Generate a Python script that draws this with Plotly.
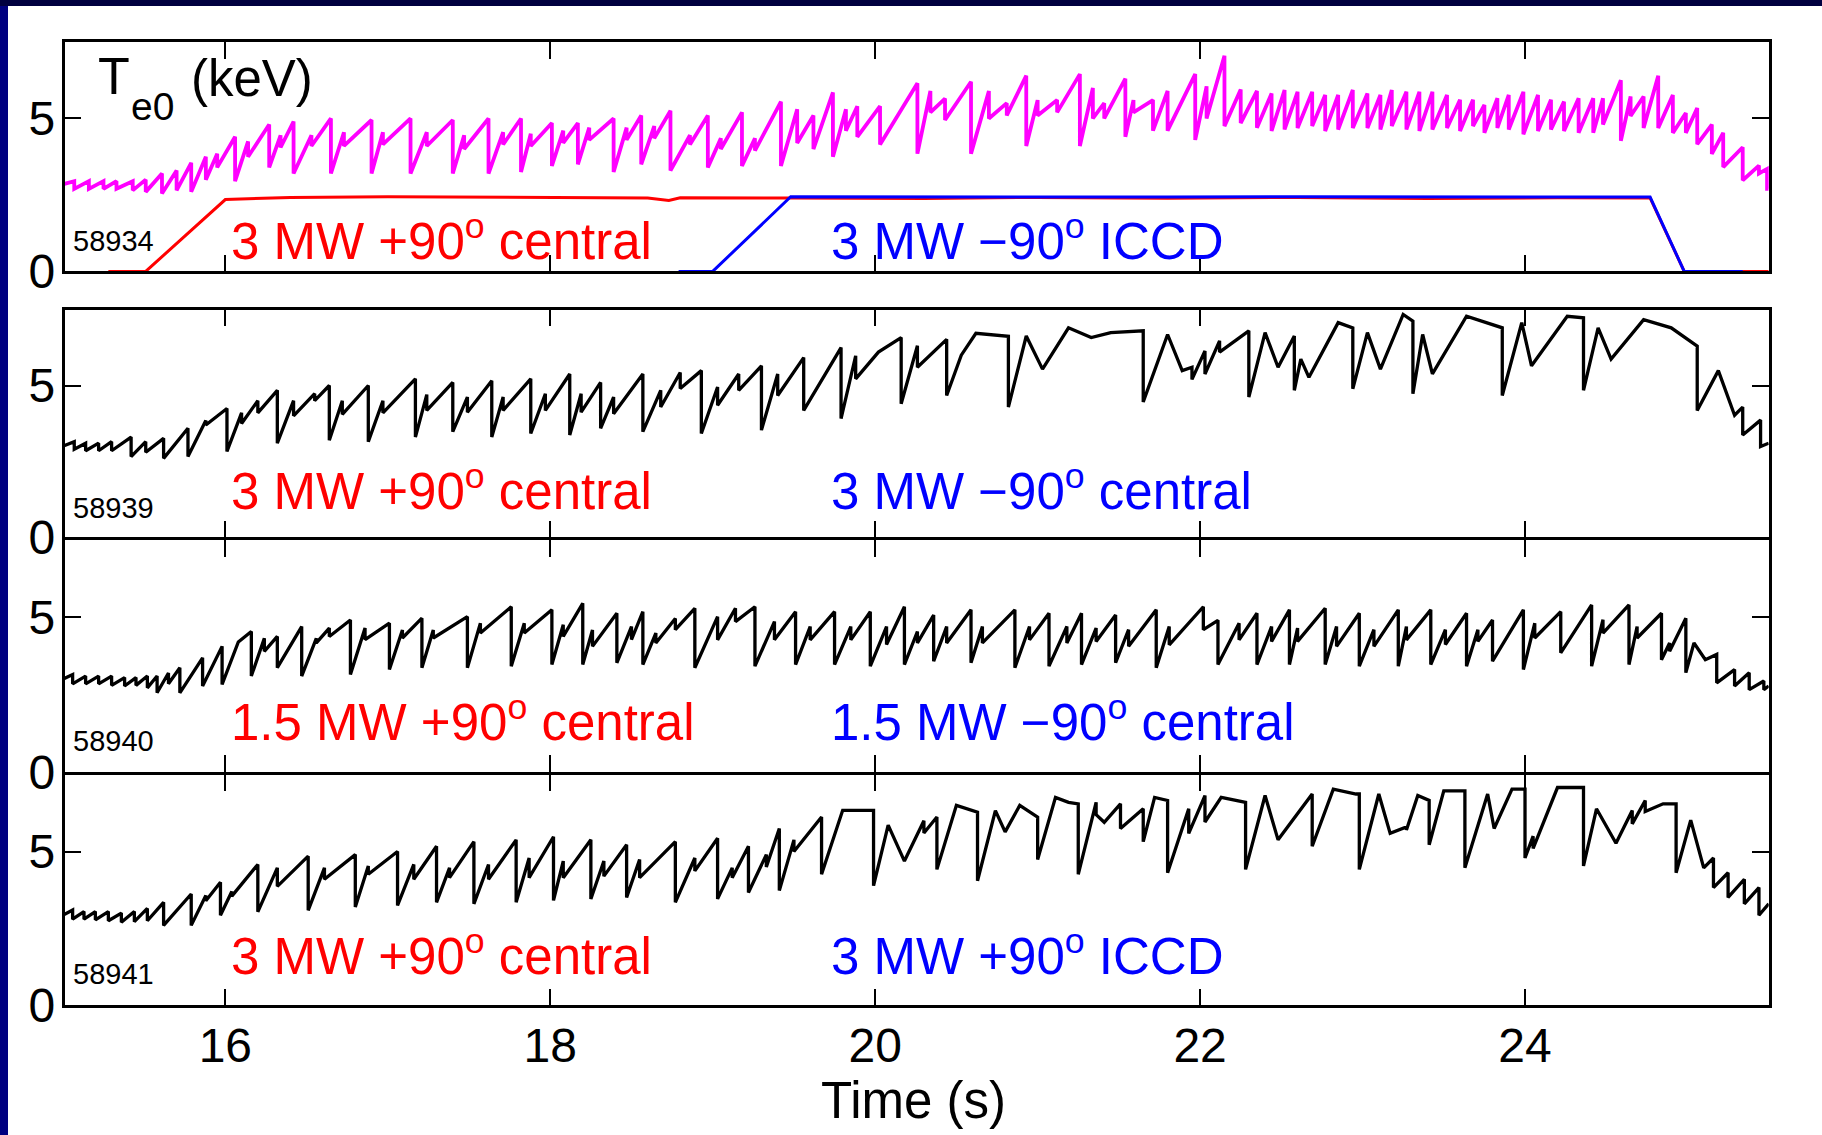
import plotly.graph_objects as go

W, H = 1822, 1135

# ---------------------------------------------------------------- axes data
T_RANGE = [15.01, 25.5]
TE_RANGE = [0.0, 7.5]
x_ticks = [16, 18, 20, 22, 24]
y_ticks = [0, 5]

shots = ["58934", "58939", "58940", "58941"]
trace_colors = ["#ff00ff", "#000000", "#000000", "#000000"]

# central Te sawtooth records: (crash time [s], Te before crash, Te after crash) [keV]
# entries with equal before/after values are plain waypoints of the trace
te_58934_start = (15.00, 2.85)
crashes_58934 = [
    (15.07, 2.95, 2.70), (15.16, 2.95, 2.70), (15.25, 2.95, 2.70), (15.33, 2.95, 2.70),
    (15.43, 2.95, 2.65), (15.51, 3.00, 2.60), (15.61, 3.20, 2.55), (15.70, 3.30, 2.65),
    (15.79, 3.55, 2.60), (15.88, 3.75, 3.00), (15.95, 3.85, 3.40), (16.06, 4.40, 2.95),
    (16.14, 4.25, 3.75), (16.27, 4.80, 3.40), (16.34, 4.45, 4.05), (16.42, 4.90, 3.20),
    (16.53, 4.45, 4.10), (16.65, 5.00, 3.20), (16.73, 4.55, 4.10), (16.90, 4.95, 3.20),
    (16.97, 4.55, 4.15), (17.14, 5.00, 3.20), (17.24, 4.55, 4.10), (17.40, 4.95, 3.20),
    (17.47, 4.45, 4.00), (17.62, 5.00, 3.20), (17.71, 4.55, 4.15), (17.82, 5.00, 3.25),
    (17.88, 4.50, 4.10), (18.01, 4.85, 3.45), (18.08, 4.60, 4.20), (18.17, 4.85, 3.50),
    (18.24, 4.70, 4.30), (18.39, 5.00, 3.25), (18.47, 4.70, 4.30), (18.56, 5.10, 3.50),
    (18.64, 4.75, 4.35), (18.74, 5.25, 3.30), (18.86, 4.45, 4.15), (18.97, 5.10, 3.40),
    (19.05, 4.35, 4.00), (19.18, 5.20, 3.45), (19.26, 4.35, 3.95), (19.42, 5.55, 3.45),
    (19.52, 5.30, 4.20), (19.62, 5.10, 4.00), (19.74, 5.85, 3.75), (19.82, 5.30, 4.60),
    (19.89, 5.40, 4.40), (20.03, 5.40, 4.15), (20.26, 6.15, 3.85), (20.34, 5.90, 5.20),
    (20.43, 5.65, 4.95), (20.59, 6.20, 3.85), (20.70, 5.90, 5.00), (20.81, 5.50, 5.10),
    (20.93, 6.40, 4.10), (21.00, 5.60, 5.10), (21.12, 5.60, 5.20), (21.26, 6.45, 4.10),
    (21.34, 6.00, 5.00), (21.41, 5.50, 5.00), (21.54, 6.30, 4.40), (21.59, 5.60, 5.20),
    (21.71, 5.60, 4.60), (21.80, 5.90, 4.60), (21.97, 6.45, 4.30), (22.04, 6.05, 5.00),
    (22.15, 7.05, 4.75), (22.25, 5.95, 4.85), (22.35, 5.90, 4.70), (22.44, 5.82, 4.59),
    (22.52, 5.93, 4.64), (22.60, 5.87, 4.69), (22.69, 5.87, 4.75), (22.77, 5.77, 4.59),
    (22.85, 5.77, 4.64), (22.94, 5.93, 4.69), (23.03, 5.82, 4.69), (23.11, 5.77, 4.64),
    (23.18, 5.93, 4.75), (23.27, 5.87, 4.64), (23.35, 5.87, 4.59), (23.43, 5.87, 4.64),
    (23.52, 5.77, 4.69), (23.60, 5.61, 4.59), (23.68, 5.61, 4.75), (23.75, 5.44, 4.53),
    (23.83, 5.66, 4.69), (23.90, 5.77, 4.64), (23.99, 5.87, 4.48), (24.08, 5.77, 4.59),
    (24.16, 5.61, 4.64), (24.24, 5.55, 4.59), (24.33, 5.66, 4.53), (24.42, 5.66, 4.53),
    (24.48, 5.66, 4.80), (24.59, 6.25, 4.27), (24.65, 5.72, 5.08), (24.73, 5.72, 4.69),
    (24.82, 6.40, 4.69), (24.91, 5.77, 4.53), (24.99, 5.18, 4.53), (25.06, 5.34, 4.16),
    (25.15, 4.80, 3.84), (25.22, 4.53, 3.41), (25.34, 4.06, 2.98), (25.44, 3.46, 3.20),
    (25.49, 3.35, 2.70),
]
te_58934_end = (25.50, 2.70)

te_58939_start = (15.00, 3.00)
crashes_58939 = [
    (15.07, 3.15, 2.90), (15.14, 3.10, 2.85), (15.22, 3.10, 2.85), (15.30, 3.15, 2.85),
    (15.42, 3.30, 2.66), (15.51, 3.15, 2.80), (15.62, 3.26, 2.60), (15.77, 3.59, 2.66),
    (15.88, 3.85, 3.70), (16.01, 4.24, 2.83), (16.10, 4.10, 3.75), (16.20, 4.50, 4.10),
    (16.32, 4.84, 3.10), (16.42, 4.50, 4.00), (16.55, 4.73, 4.50), (16.64, 5.00, 3.20),
    (16.72, 4.50, 4.05), (16.88, 5.00, 3.15), (16.97, 4.50, 4.10), (17.17, 5.22, 3.30),
    (17.24, 4.70, 4.18), (17.40, 5.10, 3.48), (17.49, 4.62, 4.12), (17.64, 5.16, 3.30),
    (17.71, 4.62, 4.18), (17.88, 5.22, 3.42), (17.97, 4.73, 4.18), (18.12, 5.38, 3.37),
    (18.19, 4.73, 4.12), (18.31, 5.10, 3.59), (18.39, 4.62, 4.07), (18.57, 5.38, 3.48),
    (18.68, 4.84, 4.29), (18.80, 5.43, 4.90), (18.93, 5.49, 3.42), (19.03, 4.95, 4.35),
    (19.16, 5.38, 4.84), (19.30, 5.65, 3.53), (19.40, 5.38, 4.67), (19.56, 5.92, 4.18),
    (19.79, 6.25, 3.91), (19.88, 5.98, 5.22), (20.02, 6.10, 6.10), (20.16, 6.58, 4.40),
    (20.26, 6.31, 5.60), (20.44, 6.52, 4.67), (20.53, 6.00, 6.00), (20.62, 6.72, 6.72),
    (20.82, 6.62, 4.29), (20.93, 6.63, 6.63), (21.03, 5.54, 5.54), (21.19, 6.90, 6.90),
    (21.33, 6.58, 6.58), (21.45, 6.74, 6.74), (21.65, 6.80, 4.46), (21.80, 6.68, 6.68),
    (21.89, 5.49, 5.49), (21.95, 5.60, 5.20), (22.03, 6.14, 5.38), (22.12, 6.47, 6.10),
    (22.30, 6.80, 4.62), (22.40, 6.74, 6.74), (22.48, 5.60, 5.60), (22.58, 6.63, 4.84),
    (22.62, 5.87, 5.87), (22.67, 5.27, 5.27), (22.85, 7.07, 7.07), (22.94, 6.90, 4.89),
    (23.03, 6.74, 6.74), (23.11, 5.54, 5.54), (23.25, 7.34, 7.34), (23.31, 7.12, 4.73),
    (23.37, 6.68, 6.68), (23.43, 5.38, 5.38), (23.64, 7.28, 7.28), (23.86, 6.90, 4.67),
    (23.98, 7.07, 7.07), (24.04, 5.65, 5.65), (24.26, 7.28, 7.28), (24.36, 7.23, 4.84),
    (24.45, 6.90, 6.90), (24.53, 5.87, 5.87), (24.73, 7.17, 7.17), (24.90, 6.90, 6.90),
    (25.04, 6.35, 6.35), (25.06, 6.30, 4.18), (25.19, 5.49, 5.49), (25.29, 4.02, 4.02),
    (25.34, 4.29, 3.37), (25.45, 3.86, 2.99),
]
te_58939_end = (25.50, 3.10)

te_58940_start = (15.00, 3.00)
crashes_58940 = [
    (15.06, 3.15, 2.85), (15.14, 3.10, 2.85), (15.22, 3.10, 2.85), (15.30, 3.10, 2.80),
    (15.38, 3.05, 2.78), (15.45, 3.05, 2.80), (15.52, 3.10, 2.72), (15.58, 3.10, 2.56),
    (15.65, 3.20, 2.85), (15.72, 3.37, 2.56), (15.86, 3.69, 2.78), (15.98, 4.06, 2.83),
    (16.08, 4.20, 4.20), (16.16, 4.54, 3.10), (16.24, 4.32, 3.90), (16.32, 4.38, 3.37),
    (16.47, 4.70, 3.10), (16.56, 4.32, 4.17), (16.64, 4.65, 4.38), (16.77, 4.91, 3.15),
    (16.86, 4.65, 4.28), (17.01, 4.81, 3.31), (17.09, 4.59, 4.33), (17.21, 4.97, 3.37),
    (17.28, 4.59, 4.33), (17.49, 5.02, 3.37), (17.57, 4.81, 4.49), (17.76, 5.34, 3.42),
    (17.84, 4.81, 4.49), (18.01, 5.24, 3.47), (18.08, 4.76, 4.38), (18.20, 5.45, 3.47),
    (18.26, 4.59, 4.06), (18.41, 5.13, 3.53), (18.50, 4.70, 4.28), (18.57, 5.18, 3.47),
    (18.65, 4.49, 4.17), (18.77, 4.96, 4.60), (18.89, 5.29, 3.37), (19.03, 5.02, 4.27),
    (19.14, 5.29, 4.86), (19.26, 5.34, 3.42), (19.38, 4.86, 4.27), (19.51, 5.18, 3.47),
    (19.60, 4.70, 4.27), (19.75, 5.18, 3.47), (19.85, 4.70, 4.27), (19.97, 5.18, 3.42),
    (20.07, 4.70, 4.12), (20.18, 5.34, 3.47), (20.26, 4.54, 4.17), (20.36, 5.07, 3.58),
    (20.44, 4.70, 4.17), (20.59, 5.24, 3.53), (20.66, 4.70, 4.17), (20.86, 5.24, 3.37),
    (20.95, 4.70, 4.27), (21.07, 5.13, 3.42), (21.18, 4.70, 4.17), (21.27, 5.13, 3.47),
    (21.36, 4.65, 4.22), (21.48, 5.07, 3.53), (21.56, 4.60, 4.06), (21.73, 5.24, 3.37),
    (21.81, 4.70, 4.11), (22.02, 5.34, 4.60), (22.11, 4.90, 3.47), (22.24, 4.81, 4.27),
    (22.35, 5.13, 3.47), (22.44, 4.70, 4.22), (22.55, 5.24, 3.47), (22.60, 4.65, 4.22),
    (22.77, 5.29, 3.47), (22.84, 4.70, 4.06), (22.98, 5.13, 3.42), (23.07, 4.60, 4.06),
    (23.22, 5.24, 3.42), (23.27, 4.70, 4.27), (23.42, 5.24, 3.47), (23.51, 4.60, 4.12),
    (23.64, 5.13, 3.42), (23.71, 4.60, 4.22), (23.80, 4.91, 3.58), (23.99, 5.24, 3.31),
    (24.06, 4.81, 4.33), (24.22, 5.18, 3.85), (24.41, 5.40, 3.42), (24.48, 4.92, 4.49),
    (24.64, 5.40, 3.47), (24.69, 4.70, 4.33), (24.84, 5.13, 3.63), (24.89, 4.17, 3.90),
    (24.99, 4.97, 3.21), (25.04, 4.17, 4.17), (25.11, 3.63, 3.63), (25.18, 3.80, 2.88),
    (25.29, 3.31, 2.78), (25.38, 3.21, 2.66), (25.47, 2.94, 2.66),
]
te_58940_end = (25.50, 2.78)

te_58941_start = (15.00, 2.93)
crashes_58941 = [
    (15.06, 3.10, 2.80), (15.13, 3.05, 2.80), (15.20, 3.05, 2.78), (15.28, 3.05, 2.75),
    (15.36, 3.00, 2.70), (15.44, 3.05, 2.72), (15.52, 3.15, 2.75), (15.62, 3.35, 2.60),
    (15.79, 3.62, 2.60), (15.88, 3.57, 3.40), (15.97, 4.00, 2.93), (16.04, 3.70, 3.55),
    (16.20, 4.58, 3.04), (16.32, 4.47, 3.87), (16.51, 4.85, 3.09), (16.61, 4.47, 4.10),
    (16.80, 4.90, 3.20), (16.88, 4.53, 4.26), (17.06, 5.00, 3.25), (17.16, 4.58, 4.10),
    (17.30, 5.17, 3.35), (17.38, 4.47, 4.15), (17.53, 5.32, 3.30), (17.62, 4.58, 4.10),
    (17.79, 5.38, 3.35), (17.87, 4.79, 4.15), (18.02, 5.48, 3.41), (18.08, 4.69, 4.15),
    (18.25, 5.38, 3.46), (18.33, 4.69, 4.20), (18.47, 5.22, 3.51), (18.55, 4.74, 4.15),
    (18.77, 5.32, 3.35), (18.89, 4.79, 4.37), (19.03, 5.43, 3.46), (19.12, 4.47, 4.15),
    (19.22, 5.17, 3.67), (19.33, 4.90, 4.50), (19.41, 5.75, 3.73), (19.50, 5.38, 5.00),
    (19.67, 6.12, 4.26), (19.80, 6.34, 6.34), (19.99, 6.34, 3.89), (20.08, 5.86, 5.86),
    (20.18, 4.69, 4.69), (20.30, 6.00, 5.60), (20.38, 6.12, 4.42), (20.50, 6.50, 6.50),
    (20.63, 6.28, 4.05), (20.74, 6.33, 6.33), (20.80, 5.64, 5.64), (20.89, 6.50, 6.50),
    (21.00, 6.12, 4.74), (21.11, 6.76, 6.76), (21.19, 6.60, 6.60), (21.25, 6.55, 4.26),
    (21.36, 6.60, 6.20), (21.41, 5.95, 5.95), (21.51, 6.55, 5.75), (21.65, 6.39, 5.32),
    (21.72, 6.76, 6.76), (21.80, 6.66, 4.31), (21.93, 6.39, 5.59), (22.03, 6.82, 5.96),
    (22.13, 6.76, 6.76), (22.28, 6.60, 4.42), (22.40, 6.82, 6.82), (22.48, 5.38, 5.38),
    (22.69, 6.87, 5.17), (22.82, 7.03, 7.03), (22.96, 6.87, 6.87), (22.98, 6.87, 4.42),
    (23.10, 6.87, 6.87), (23.17, 5.59, 5.59), (23.27, 5.80, 5.70), (23.34, 6.82, 6.82),
    (23.41, 6.66, 5.22), (23.50, 6.97, 6.97), (23.63, 6.97, 4.47), (23.77, 6.87, 6.87),
    (23.81, 5.75, 5.75), (23.92, 7.03, 7.03), (24.00, 7.03, 4.79), (24.05, 5.50, 5.10),
    (24.20, 7.08, 7.08), (24.36, 7.08, 4.53), (24.44, 6.39, 6.39), (24.56, 5.27, 5.27),
    (24.66, 6.33, 5.90), (24.74, 6.66, 6.30), (24.85, 6.55, 6.55), (24.93, 6.55, 4.31),
    (25.02, 6.02, 6.02), (25.10, 4.47, 4.47), (25.16, 4.79, 3.83), (25.25, 4.31, 3.51),
    (25.35, 4.10, 3.30), (25.44, 3.83, 2.93),
]
te_58941_end = (25.50, 3.30)

# ICRF power waveforms of shot 58934, drawn on the Te scale
rf_co_t = [15.28, 15.51, 16.00, 16.40, 17.00, 17.80, 18.60, 18.73, 18.80, 19.50,
           20.30, 21.00, 21.80, 22.60, 23.40, 24.20, 24.77, 24.98, 25.50]
rf_co_v = [0.00, 0.00, 2.35, 2.42, 2.44, 2.41, 2.40, 2.32, 2.41, 2.40,
           2.38, 2.42, 2.39, 2.42, 2.38, 2.41, 2.40, 0.00, 0.00]
rf_ctr_t = [18.79, 19.00, 19.48, 20.20, 21.00, 21.80, 22.60, 23.40, 24.20, 24.77, 24.98, 25.34]
rf_ctr_v = [0.00, 0.00, 2.44, 2.43, 2.44, 2.43, 2.44, 2.43, 2.44, 2.43, 0.00, 0.00]

# heating labels: co-current (red) and second antenna (blue)
labels_red = ["3 MW +90<sup>o</sup> central", "3 MW +90<sup>o</sup> central",
              "1.5 MW +90<sup>o</sup> central", "3 MW +90<sup>o</sup> central"]
labels_blue = ["3 MW \u221290<sup>o</sup> ICCD", "3 MW \u221290<sup>o</sup> central",
               "1.5 MW \u221290<sup>o</sup> central", "3 MW +90<sup>o</sup> ICCD"]

starts = [te_58934_start, te_58939_start, te_58940_start, te_58941_start]
crash_sets = [crashes_58934, crashes_58939, crashes_58940, crashes_58941]
ends = [te_58934_end, te_58939_end, te_58940_end, te_58941_end]

# ---------------------------------------------------------------- layout geometry (pixels)
LW = 2.6                      # frame line width
X_LEFT, X_RIGHT = 64.5, 1768.7
# frame line centres (top, bottom) of each panel
panel_px = [(40.7, 272.7), (308.3, 538.6), (538.6, 773.3), (773.3, 1006.7)]
FONT = "Liberation Sans, Arial, Helvetica, sans-serif"


def fx(px):
    return px / W


def fy(py):
    return 1 - py / H


def sawtooth_path(start, crashes, end):
    ts, vs = [start[0]], [start[1]]
    for t, hi, lo in crashes:
        ts += [t, t]
        vs += [hi, lo]
    ts.append(end[0])
    vs.append(end[1])
    return ts, vs


fig = go.Figure()

for i in range(4):
    xa = "x" if i == 0 else f"x{i + 1}"
    ya = "y" if i == 0 else f"y{i + 1}"
    if i == 0:
        fig.add_trace(go.Scatter(x=rf_co_t, y=rf_co_v, mode="lines", xaxis=xa, yaxis=ya,
                                 line=dict(color="#ff0000", width=3.0), hoverinfo="skip"))
        fig.add_trace(go.Scatter(x=rf_ctr_t, y=rf_ctr_v, mode="lines", xaxis=xa, yaxis=ya,
                                 line=dict(color="#0000ff", width=3.0), hoverinfo="skip"))
    ts, vs = sawtooth_path(starts[i], crash_sets[i], ends[i])
    fig.add_trace(go.Scatter(x=ts, y=vs, mode="lines", xaxis=xa, yaxis=ya,
                             line=dict(color=trace_colors[i], width=3.8 if i == 0 else 3.3),
                             hoverinfo="skip"))

layout = dict(
    width=W, height=H, autosize=False,
    margin=dict(l=0, r=0, t=0, b=0, pad=0, autoexpand=False),
    paper_bgcolor="white", plot_bgcolor="white",
    showlegend=False,
    font=dict(family=FONT, color="black"),
)

for i, (top, bot) in enumerate(panel_px):
    key = "" if i == 0 else str(i + 1)
    layout["xaxis" + key] = dict(
        domain=[fx(X_LEFT), fx(X_RIGHT)], range=T_RANGE, anchor="y" + key,
        tickvals=x_ticks, ticktext=[str(v) for v in x_ticks],
        ticks="inside", ticklen=17, tickwidth=2.2, tickcolor="black",
        showline=True, linecolor="black", linewidth=LW, mirror="ticks",
        showgrid=False, zeroline=False, showticklabels=(i == 3), automargin=False,
        tickfont=dict(family=FONT, size=48, color="black"),
        ticklabelstandoff=-4,
    )
    layout["yaxis" + key] = dict(
        domain=[fy(bot - LW / 2), fy(top + LW / 2)], range=TE_RANGE, anchor="x" + key,
        tickvals=y_ticks, ticktext=[str(v) for v in y_ticks],
        ticks="inside", ticklen=17, tickwidth=2.2, tickcolor="black",
        showline=True, linecolor="black", linewidth=LW, mirror="ticks",
        showgrid=False, zeroline=False, automargin=False,
        tickfont=dict(family=FONT, size=48, color="black"),
        ticklabelstandoff=-3,
    )

fig.update_layout(**layout)

# label rows: centre heights in pixels of the shot number and the heating labels
shot_label_y = [241, 507.5, 741, 974]
heat_label_y = [238, 488, 719, 953]

ann = []
for i in range(4):
    ann.append(dict(x=fx(71), y=fy(shot_label_y[i]), xref="paper", yref="paper",
                    text=shots[i], showarrow=False, xanchor="left", yanchor="middle",
                    font=dict(family=FONT, size=29, color="black")))
    ann.append(dict(x=fx(229), y=fy(heat_label_y[i]), xref="paper", yref="paper",
                    text=labels_red[i], showarrow=False, xanchor="left", yanchor="middle",
                    font=dict(family=FONT, size=51, color="#ff0000")))
    ann.append(dict(x=fx(829), y=fy(heat_label_y[i]), xref="paper", yref="paper",
                    text=labels_blue[i], showarrow=False, xanchor="left", yanchor="middle",
                    font=dict(family=FONT, size=51, color="#0000ff")))

# axis quantity label: T with a low-set subscript e0, then the unit
ann.append(dict(x=fx(96), y=fy(76), xref="paper", yref="paper",
                text="T", showarrow=False, xanchor="left", yanchor="middle",
                font=dict(family=FONT, size=52, color="black")))
ann.append(dict(x=fx(129), y=fy(106), xref="paper", yref="paper",
                text="e0", showarrow=False, xanchor="left", yanchor="middle",
                font=dict(family=FONT, size=39, color="black")))
ann.append(dict(x=fx(189), y=fy(78), xref="paper", yref="paper",
                text="(keV)", showarrow=False, xanchor="left", yanchor="middle",
                font=dict(family=FONT, size=51, color="black")))
ann.append(dict(x=fx(913), y=fy(1100), xref="paper", yref="paper",
                text="Time (s)", showarrow=False, xanchor="center", yanchor="middle",
                font=dict(family=FONT, size=51, color="black")))

fig.update_layout(annotations=ann)

# slide frame: dark band along the top, navy band down the left edge
fig.update_layout(shapes=[
    dict(type="rect", xref="paper", yref="paper", x0=0, x1=1, y0=fy(6), y1=1,
         fillcolor="#000040", line=dict(width=0), layer="above"),
    dict(type="rect", xref="paper", yref="paper", x0=0, x1=fx(8), y0=0, y1=fy(6),
         fillcolor="#000080", line=dict(width=0), layer="above"),
])

fig.write_html("out.html")
